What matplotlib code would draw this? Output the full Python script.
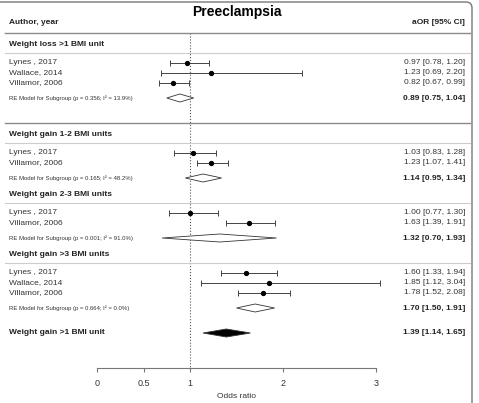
import numpy as np
import matplotlib.pyplot as plt
from matplotlib.patches import Polygon, FancyBboxPatch
from matplotlib.transforms import IdentityTransform

plt.rcParams['font.family'] = ['Liberation Sans', 'DejaVu Sans']

# data
groups = ["Weight loss >1 BMI unit", "Weight gain 1-2 BMI units",
          "Weight gain 2-3 BMI units", "Weight gain >3 BMI units"]
studies = [["Lynes , 2017", "Wallace, 2014", "Villamor, 2006"],
           ["Lynes , 2017", "Villamor, 2006"],
           ["Lynes , 2017", "Villamor, 2006"],
           ["Lynes , 2017", "Wallace, 2014", "Villamor, 2006"]]
est = [[0.97, 1.23, 0.82], [1.03, 1.23], [1.00, 1.63], [1.60, 1.85, 1.78]]
lo = [[0.78, 0.69, 0.67], [0.83, 1.07], [0.77, 1.39], [1.33, 1.12, 1.52]]
hi = [[1.20, 2.20, 0.99], [1.28, 1.41], [1.30, 1.91], [1.94, 3.04, 2.08]]
re_p = ["0.356", "0.165", "0.001", "0.664"]
re_i2 = ["13.9", "48.2", "91.0", "0.0"]
re_est = [0.89, 1.14, 1.32, 1.70]
re_lo = [0.75, 0.95, 0.70, 1.50]
re_hi = [1.04, 1.34, 1.93, 1.91]
overall_label = "Weight gain >1 BMI unit"
overall = (1.39, 1.14, 1.65)
xticks = [0, 0.5, 1, 2, 3]
xticklabels = ["0", "0.5", "1", "2", "3"]

fig = plt.figure(figsize=(4.79, 4.03), dpi=100)
ax = fig.add_axes([0, 0, 1, 1])
ax.set_xlim(-97 / 93, (479 - 97) / 93)
ax.set_ylim(403, 0)
ax.patch.set_visible(False)

tr = ax.get_yaxis_transform()
xl, xr = 9 / 479, 465 / 479
fs = 6
txt = '#222222'


def fmt(e, l, h):
    return f"{e:.2f} [{l:.2f}, {h:.2f}]"


def hline(y, color, lw):
    ax.axhline(y, xmin=5 / 479, xmax=470 / 479, color=color, lw=lw)


def diamond(e, l, h, y, face):
    ax.add_patch(Polygon([(l, y), (e, y - 4), (h, y), (e, y + 4)],
                         closed=True, fc=face, ec='#333333', lw=0.6, zorder=3))


ax.text(1.5, 12, "Preeclampsia", ha='center', va='center', fontsize=10,
        fontweight='bold', color='black')
ax.text(xl, 23, "Author, year", transform=tr, ha='left', va='center',
        fontsize=fs, fontweight='bold', color=txt)
ax.text(xr, 22, "aOR [95% CI]", transform=tr, ha='right', va='center',
        fontsize=fs, fontweight='bold', color=txt)
hline(33, '#8a8a8a', 1.0)

y = 45
for g in range(len(groups)):
    ax.text(xl, y, groups[g], transform=tr, ha='left', va='center',
            fontsize=fs, fontweight='bold', color=txt)
    hline(y + 8, '#cccccc', 0.8)
    ys = y + 18 + 10 * np.arange(len(studies[g]))
    e = np.array(est[g])
    ax.errorbar(e, ys, xerr=[e - np.array(lo[g]), np.array(hi[g]) - e],
                fmt='o', ms=2.8, color='black', ecolor='#444444',
                elinewidth=0.7, capsize=2, capthick=0.7, zorder=4)
    for k, s in enumerate(studies[g]):
        ax.text(xl, ys[k], s, transform=tr, ha='left', va='center',
                fontsize=fs, color='#333333')
        ax.text(xr, ys[k], fmt(est[g][k], lo[g][k], hi[g][k]), transform=tr,
                ha='right', va='center', fontsize=fs, color='#333333')
    yre = ys[-1] + 15
    ax.text(xl, yre, f"RE Model for Subgroup (p = {re_p[g]}; I² = {re_i2[g]}%)",
            transform=tr, ha='left', va='center', fontsize=4.3, color='#333333')
    diamond(re_est[g], re_lo[g], re_hi[g], yre, 'white')
    ax.text(xr, yre, fmt(re_est[g], re_lo[g], re_hi[g]), transform=tr,
            ha='right', va='center', fontsize=fs, fontweight='bold', color=txt)
    if g == 0:
        hline(yre + 25, '#8a8a8a', 1.0)
        y = yre + 37
    else:
        y = yre + 17

yo = yre + 25
ax.text(xl, yo, overall_label, transform=tr, ha='left', va='center',
        fontsize=fs, fontweight='bold', color=txt)
diamond(overall[0], overall[1], overall[2], yo, 'black')
ax.text(xr, yo, fmt(*overall), transform=tr, ha='right', va='center',
        fontsize=fs, fontweight='bold', color=txt)

# reference line at OR = 1
ax.plot([1, 1], [33, 368], ls=':', color='#555555', lw=0.8, zorder=1)

# x axis
for sp in ['top', 'left', 'right']:
    ax.spines[sp].set_visible(False)
ax.spines['bottom'].set_position(('data', 368))
ax.spines['bottom'].set_bounds(0, 3)
ax.spines['bottom'].set_color('#777777')
ax.set_xticks(xticks)
ax.set_xticklabels(xticklabels)
ax.tick_params(axis='x', direction='out', length=3, width=0.8, color='#777777',
               labelsize=6.5, labelcolor='#333333', pad=5)
ax.set_yticks([])
ax.text(1.5, 396, "Odds ratio", ha='center', va='center', fontsize=fs,
        color='#333333')

# outer frame
fig.add_artist(FancyBboxPatch((-10, -10), 482, 411,
                              boxstyle="round,pad=0,rounding_size=6",
                              transform=IdentityTransform(), fill=False,
                              ec='#777777', lw=1.0))

fig.savefig("out.png", dpi=100)
